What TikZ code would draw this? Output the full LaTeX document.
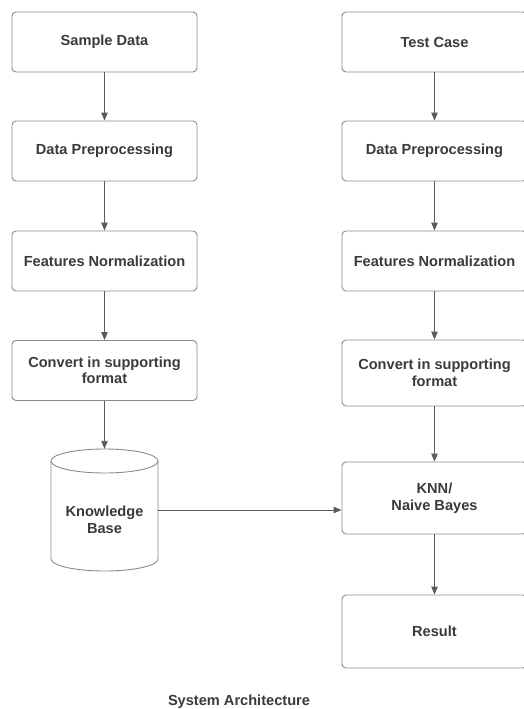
\documentclass[tikz,border=0pt]{standalone}
\usepackage{fontspec}
\setmainfont{Liberation Sans}
\usetikzlibrary{arrows.meta}
\definecolor{txt}{HTML}{3A3A3A}
\definecolor{brd}{HTML}{8A8A8A}
\definecolor{arr}{HTML}{5A5A5A}
\tikzset{
  stepbox/.style={draw=brd, line width=0.9pt, rounded corners=4pt, minimum width=185pt,
    text=txt, font=\fontsize{14.6}{16.5}\selectfont\bfseries, align=center, inner sep=2pt},
  flow/.style={draw=arr, line width=0.9pt, -{Triangle[length=8pt,width=6.5pt]}},
  cyl/.style={draw=brd, line width=0.9pt}
}
\begin{document}
\begin{tikzpicture}[x=1pt,y=-1pt]
\useasboundingbox (0,0) rectangle (524,709);
% left column
\node[stepbox, minimum height=60pt] (s1) at (104.5,42) {Sample Data};
\node[stepbox, minimum height=60pt] (s2) at (104.5,151) {Data Preprocessing};
\node[stepbox, minimum height=60pt] (s3) at (104.5,261) {Features Normalization};
\node[stepbox, minimum height=60pt] (s4) at (104.5,370.5) {Convert in supporting\\format};
% knowledge base cylinder
\node[minimum width=107pt, minimum height=122pt, inner sep=0pt] (kb) at (104.5,510) {};
\draw[cyl] (104.5,461) ellipse [x radius=53.5, y radius=12];
\draw[cyl] (51,461) -- (51,559) arc[start angle=180, end angle=0, x radius=53.5, y radius=12] -- (158,461);
\node[text=txt, font=\fontsize{14.6}{16.5}\selectfont\bfseries, align=center] (kbt) at (104.5,520) {Knowledge\\Base};
% right column
\node[stepbox, minimum height=60pt] (t1) at (434.5,42) {Test Case};
\node[stepbox, minimum height=60pt] (t2) at (434.5,151) {Data Preprocessing};
\node[stepbox, minimum height=60pt] (t3) at (434.5,261) {Features Normalization};
\node[stepbox, minimum height=66pt] (t4) at (434.5,373) {Convert in supporting\\format};
\node[stepbox, minimum height=72pt] (t5) at (434.5,498) {KNN/\\Naive Bayes};
\node[stepbox, minimum height=73pt] (t6) at (434.5,631.5) {Result};
% caption
\node[text=txt, font=\fontsize{14.6}{16}\selectfont\bfseries] (cap) at (239,702) {System Architecture};
% connectors
\draw[flow] (s1) -- (s2);
\draw[flow] (s2) -- (s3);
\draw[flow] (s3) -- (s4);
\draw[flow] (s4) -- (kb.north);
\draw[flow] (t1) -- (t2);
\draw[flow] (t2) -- (t3);
\draw[flow] (t3) -- (t4);
\draw[flow] (t4) -- (t5);
\draw[flow] (t5) -- (t6);
\draw[flow] (kb.east) -- (t5.west |- kb.east);
\end{tikzpicture}
\end{document}
